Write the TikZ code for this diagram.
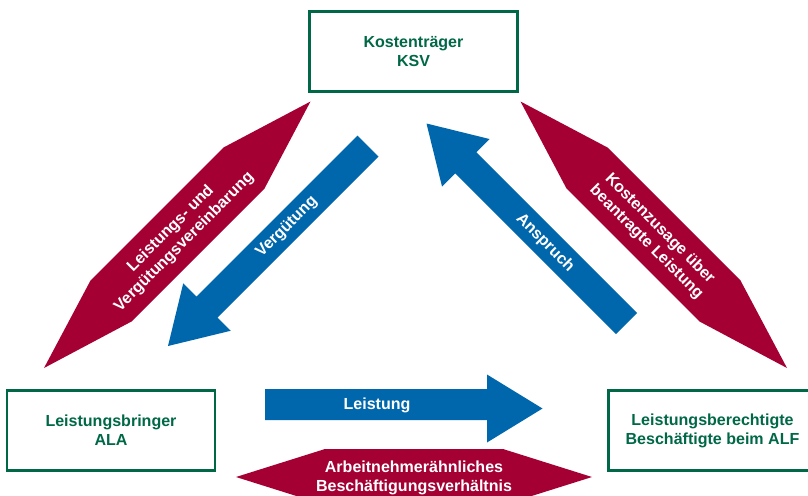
\documentclass[tikz,border=0pt]{standalone}
\usepackage{fontspec}
\setmainfont{Liberation Sans}
\usetikzlibrary{positioning}
\definecolor{ksvgreen}{RGB}{0,104,71}
\definecolor{ksvblue}{RGB}{0,103,172}
\definecolor{ksvred}{RGB}{165,0,52}
\newcommand{\partycolor}{ksvgreen}
\newcommand{\flowcolor}{ksvblue}
\newcommand{\contractcolor}{ksvred}

\begin{document}
\begin{tikzpicture}[
      % GLOBAL CFG
      x=0.025cm, y=-0.025cm,
      font=\bfseries\fontsize{11.4}{13.5}\selectfont,
      % Styles
      party/.style={% For the three parties
        rectangle,
        draw=\partycolor,
        line width=1.6pt,
        text=\partycolor,
        align=center,
        minimum width=5.2cm,
        minimum height=2cm
      },
      flow/.style={% Blue arrows
        fill=\flowcolor
      },
      contract/.style={% Red double arrows
        fill=\contractcolor
      },
      lbl/.style={% Text on the arrows
        text=white,
        align=center,
        inner sep=0pt
      }
      ]

      \useasboundingbox (0,0) rectangle (808,495);

      % Parties
      \node [party] (ksv) at (413.5,51.5) {Kostenträger\\KSV};
      \node [party] (ala) at (111,430.5) {Leistungsbringer\\ALA};
      \node [party] (alf) at (712.5,430.5) {Leistungsberechtigte\\Beschäftigte beim ALF};

      % Red double arrows
      \fill [contract] (310.5,101.5) -- (223.5,147.5) -- (90.5,280.5) -- (44,368)
        -- (131.5,321.5) -- (264.5,188.5) -- cycle;
      \node [lbl, rotate=45] (vereinbarung) at (177.5,235.5)
        {Leistungs- und\\Vergütungsvereinbarung};

      \fill [contract] (520.5,101.5) -- (607.5,147.5) -- (740.5,280.5) -- (787,368)
        -- (699.5,321.5) -- (566.5,188.5) -- cycle;
      \node [lbl, rotate=-45] (kostenzusage) at (653,235.5)
        {Kostenzusage über\\beantragte Leistung};

      \fill [contract] (236,477) -- (325,449) -- (503,449) -- (592,477)
        -- (503,505) -- (325,505) -- cycle;
      \node [lbl] (verhaeltnis) at (414,478)
        {Arbeitnehmerähnliches\\Beschäftigungsverhältnis};

      % Blue arrows
      \fill [flow] (357.5,135.5) -- (196.5,296.5) -- (183.25,283.25) -- (168,346)
        -- (230.75,330.75) -- (217.5,317.5) -- (378.5,156.5) -- cycle;
      \node [lbl, rotate=45] (verguetung) at (287,227) {Vergütung};

      \fill [flow] (426.5,123.5) -- (489.5,139) -- (476.25,152.25) -- (637,313)
        -- (616,334) -- (455.25,173.25) -- (442,186.5) -- cycle;
      \node [lbl, rotate=-45] (anspruch) at (545,243) {Anspruch};

      \fill [flow] (265,389) -- (487,389) -- (487,374.5) -- (542.5,408.5)
        -- (487,442.5) -- (487,420) -- (265,420) -- cycle;
      \node [lbl] (leistung) at (377,405) {Leistung};

    \end{tikzpicture}
\end{document}
